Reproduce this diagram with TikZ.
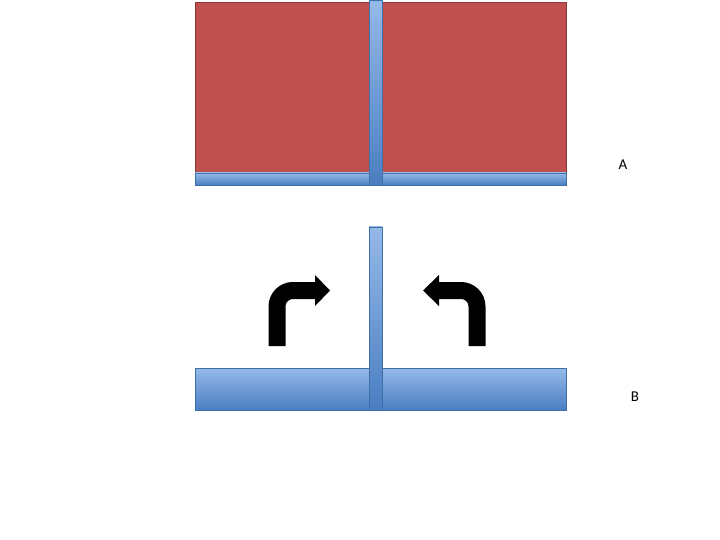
\documentclass[tikz,border=0pt]{standalone}
\usepackage{fontspec}
\setmainfont{Carlito}
\definecolor{redfill}{HTML}{C0504D}
\definecolor{redline}{HTML}{8C3836}
\definecolor{bluetop}{HTML}{95B9E8}
\definecolor{bluebot}{HTML}{4A7EC2}
\definecolor{blueline}{HTML}{4070AA}
\tikzset{
  redbox/.style={fill=redfill, draw=redline, line width=0.5pt},
  bluebar/.style={top color=bluetop, bottom color=bluebot, draw=blueline, line width=0.5pt},
  bentshaft/.style={line width=17pt, black, rounded corners=16pt},
  lbl/.style={font=\fontsize{15}{18}\selectfont, inner sep=0pt}
}
\begin{document}
\begin{tikzpicture}[x=1pt,y=-1pt]
\useasboundingbox (0,0) rectangle (720,540);
% top diagram A
\draw[redbox] (195,2) rectangle (566,173);
\draw[bluebar] (195,173) rectangle (566,185);
\draw[bluebar] (369,0) rectangle (382,185);
\node[lbl] (labA) at (623,165) {A};
% bottom diagram B
\draw[bluebar] (195,368) rectangle (566,410);
\draw[bluebar] (369,227) rectangle (382,410);
% left bent arrow
\draw[bentshaft] (277,346) -- (277,290.5) -- (316,290.5);
\fill[black] (315,275) -- (330,290.5) -- (315,306) -- cycle;
% right bent arrow
\draw[bentshaft] (477,346) -- (477,290.5) -- (438,290.5);
\fill[black] (439,275) -- (423,290.5) -- (439,306) -- cycle;
\node[lbl] (labB) at (635,397) {B};
\end{tikzpicture}
\end{document}
